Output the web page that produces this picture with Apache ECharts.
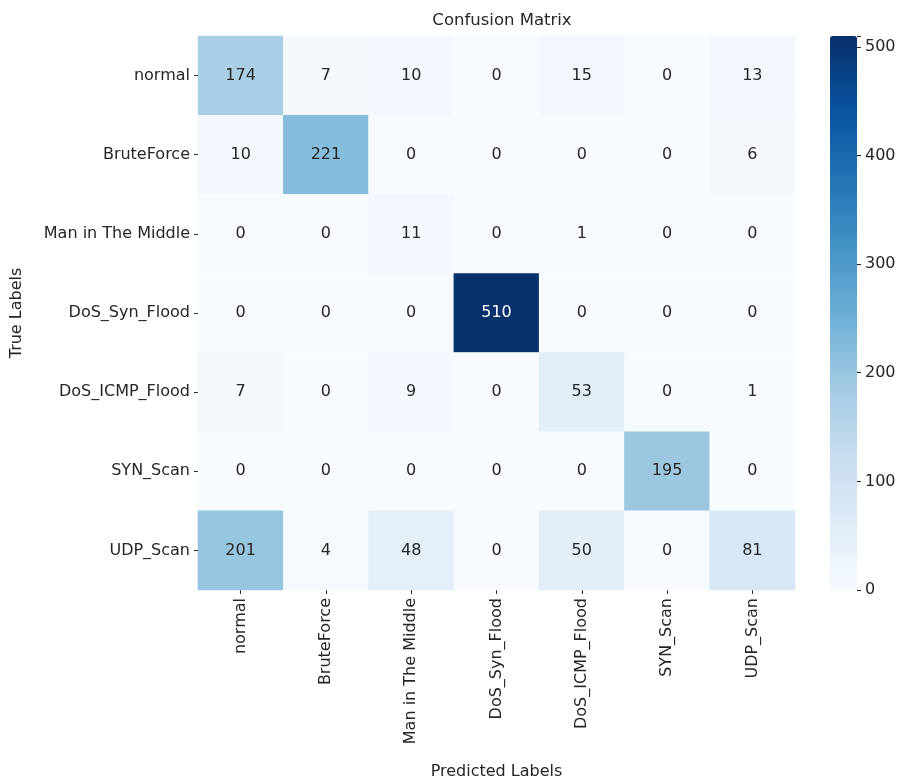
<!DOCTYPE html>
<html>
<head>
<meta charset="utf-8">
<script src="https://cdn.jsdelivr.net/npm/echarts@6/dist/echarts.min.js"></script>
<style>
  html, body { margin: 0; padding: 0; background: #fff; }
  #main { width: 904px; height: 778px; }
</style>
</head>
<body>
<div id="main"></div>
<script>
var labels = ['normal', 'BruteForce', 'Man in The Middle', 'DoS_Syn_Flood', 'DoS_ICMP_Flood', 'SYN_Scan', 'UDP_Scan']

// rows = true label, columns = predicted label
var row_normal = [174, 7, 10, 0, 15, 0, 13]
var row_bruteforce = [10, 221, 0, 0, 0, 0, 6]
var row_mitm = [0, 0, 11, 0, 1, 0, 0]
var row_synflood = [0, 0, 0, 510, 0, 0, 0]
var row_icmpflood = [7, 0, 9, 0, 53, 0, 1]
var row_synscan = [0, 0, 0, 0, 0, 195, 0]
var row_udpscan = [201, 4, 48, 0, 50, 0, 81]

var colorbarTicks = [0, 100, 200, 300, 400, 500]
var colorMax = 510

var rows = [row_normal, row_bruteforce, row_mitm, row_synflood, row_icmpflood, row_synscan, row_udpscan]
var blues = ['#f7fbff', '#deebf7', '#c6dbef', '#9ecae1', '#6baed6', '#4292c6', '#2171b5', '#08519c', '#08306b']
var font = 'DejaVu Sans'
var txt = '#262626'
var fs = 16

var cells = []
rows.forEach(function (r, i) {
  r.forEach(function (v, j) {
    cells.push({
      value: [j, i, v],
      label: { color: v > colorMax * 0.6 ? '#ffffff' : txt }
    })
  })
})

var myChart = echarts.init(document.getElementById('main'))
var option = {
  backgroundColor: '#ffffff',
  animation: false,
  title: {
    text: 'Confusion Matrix',
    left: 497,
    textAlign: 'center',
    top: 7,
    textStyle: { fontFamily: font, fontSize: 16.5, fontWeight: 'normal', color: txt }
  },
  grid: [
    { left: 198, right: 109, top: 36, bottom: 188, outerBoundsMode: 'none' },
    { left: 830, width: 27, top: 36, bottom: 188, outerBoundsMode: 'none' }
  ],
  xAxis: [
    {
      type: 'category',
      gridIndex: 0,
      data: labels,
      name: 'Predicted Labels',
      nameLocation: 'middle',
      nameGap: 174,
      nameTextStyle: { fontFamily: font, fontSize: fs, color: txt },
      axisLine: { show: false },
      axisTick: { show: true, alignWithLabel: true, length: 4, lineStyle: { color: txt } },
      axisLabel: { rotate: 90, fontFamily: font, fontSize: fs, color: txt, margin: 8, interval: 0 },
      splitArea: { show: false }
    },
    {
      type: 'value',
      gridIndex: 1,
      min: 0,
      max: 1,
      show: false
    }
  ],
  yAxis: [
    {
      type: 'category',
      gridIndex: 0,
      data: labels,
      inverse: true,
      name: 'True Labels',
      nameLocation: 'middle',
      nameGap: 173,
      nameRotate: 90,
      nameTextStyle: { fontFamily: font, fontSize: fs, color: txt },
      axisLine: { show: false },
      axisTick: { show: true, alignWithLabel: true, length: 4, lineStyle: { color: txt } },
      axisLabel: { fontFamily: font, fontSize: fs, color: txt, margin: 8, interval: 0 }
    },
    {
      type: 'value',
      gridIndex: 1,
      position: 'right',
      min: 0,
      max: colorMax,
      interval: 100,
      axisLine: { show: false, onZero: false },
      splitLine: { show: false },
      axisTick: { show: true, length: 4, lineStyle: { color: txt } },
      axisLabel: {
        fontFamily: font, fontSize: fs, color: txt, margin: 8,
        formatter: function (v) { return colorbarTicks.indexOf(v) >= 0 ? v : '' }
      }
    }
  ],
  visualMap: {
    type: 'continuous',
    min: 0,
    max: colorMax,
    seriesIndex: 0,
    calculable: false,
    orient: 'vertical',
    left: 830,
    top: 36,
    itemWidth: 27,
    itemHeight: 554,
    padding: 0,
    text: ['', ''],
    showLabel: false,
    inRange: { color: blues }
  },
  series: [
    {
      type: 'heatmap',
      xAxisIndex: 0,
      yAxisIndex: 0,
      data: cells,
      label: {
        show: true,
        fontFamily: font,
        fontSize: fs,
        formatter: function (p) { return p.value[2] }
      },
      itemStyle: { borderWidth: 0 },
      emphasis: { disabled: true }
    },
    {
      type: 'scatter',
      xAxisIndex: 1,
      yAxisIndex: 1,
      data: [],
      silent: true
    }
  ]
}
myChart.setOption(option)
</script>
</body>
</html>
